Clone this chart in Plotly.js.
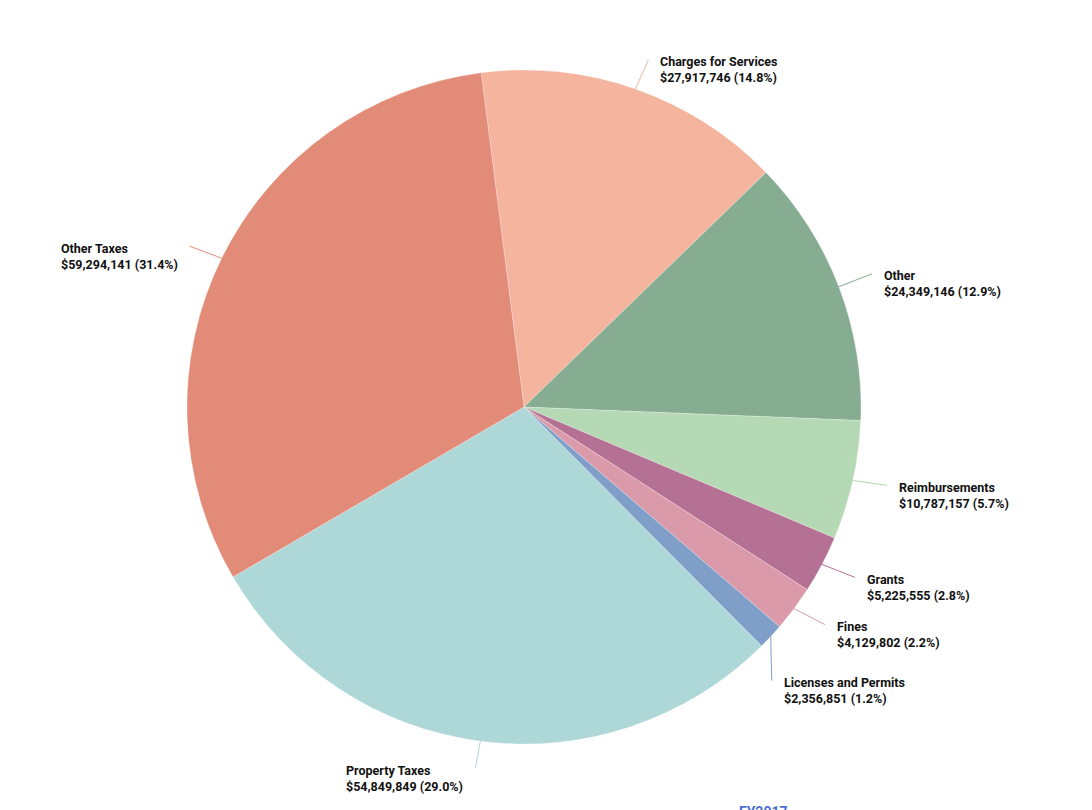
<!DOCTYPE html>
<html>
<head>
<meta charset="utf-8">
<script src="https://cdn.plot.ly/plotly-3.0.1.min.js"></script>
<style>
html,body{margin:0;padding:0;overflow:hidden;background:#fff;}
#chart{width:1092px;height:810px;}
</style>
</head>
<body>
<div id="chart"></div>
<script>
// ---- data ----
const categories = ["Charges for Services","Other","Reimbursements","Grants","Fines","Licenses and Permits","Property Taxes","Other Taxes"];
const amounts = [27917746,24349146,10787157,5225555,4129802,2356851,54849849,59294141];
const percentLabels = ["14.8%","12.9%","5.7%","2.8%","2.2%","1.2%","29.0%","31.4%"];
const footerLabel = "FY2017";

// ---- styles / layout ----
const colors = ["#F4B49E","#86AC91","#B4D9B4","#B57193","#DB9AAA","#7F9FC9","#AED7D7","#E38B79"];
const W = 1092, H = 810;
const cx = 524, cy = 407, R = 337;       // pie centre and radius in px
const rotation = -7.3;
// leader line end offsets (px) from slice edge midpoint
const leaderOffsets = [[13,-29],[33,-13],[34,5],[33,13],[31,16],[1,44],[-5,27],[-32,-12]];

const total = amounts.reduce((a,b)=>a+b,0);
const fmt = v => "$" + v.toLocaleString("en-US");

const shapes = [], annotations = [];
let cum = 0;
amounts.forEach((v,i)=>{
  const mid = rotation + (cum + v/2)/total*360;
  cum += v;
  const a = mid*Math.PI/180;
  const ex = cx + R*Math.sin(a), ey = cy - R*Math.cos(a);
  const lx = ex + leaderOffsets[i][0], ly = ey + leaderOffsets[i][1];
  const right = Math.sin(a) >= -0.05 && !(i===6);
  shapes.push({type:"line", xref:"paper", yref:"paper",
    x0: ex/W, y0: 1-ey/H, x1: lx/W, y1: 1-ly/H,
    line:{color:colors[i], width:1}});
  annotations.push({xref:"paper", yref:"paper",
    x: (lx + (right?10:-10))/W, y: 1-(ly+10)/H,
    xanchor: right?"left":"right", yanchor:"middle", align:"left",
    showarrow:false,
    text: "<b>"+categories[i]+"<br>"+fmt(v)+" ("+percentLabels[i]+")</b>",
    font:{family:"Roboto, 'Open Sans', sans-serif", size:12.5, color:"#111111"}});
});
annotations.push({xref:"paper", yref:"paper", x:763/W, y:(H-802)/H,
  xanchor:"center", yanchor:"top", showarrow:false,
  text:"<b>"+footerLabel+"</b>", font:{family:"Roboto, sans-serif", size:14, color:"#4A6FD0"}});

const trace = {
  type:"pie", labels:categories, values:amounts, sort:false,
  direction:"clockwise", rotation:rotation,
  marker:{colors:colors, line:{color:"rgba(255,255,255,0.5)", width:0.5}},
  textinfo:"none", hoverinfo:"none", showlegend:false,
  domain:{x:[(cx-R)/W,(cx+R)/W], y:[1-(cy+R)/H, 1-(cy-R)/H]}
};

const layout = {
  width:W, height:H, margin:{l:0,r:0,t:0,b:0},
  paper_bgcolor:"#fff", plot_bgcolor:"#fff",
  showlegend:false, shapes:shapes, annotations:annotations
};
Plotly.newPlot("chart",[trace],layout,{displayModeBar:false, staticPlot:true});
</script>
</body>
</html>
